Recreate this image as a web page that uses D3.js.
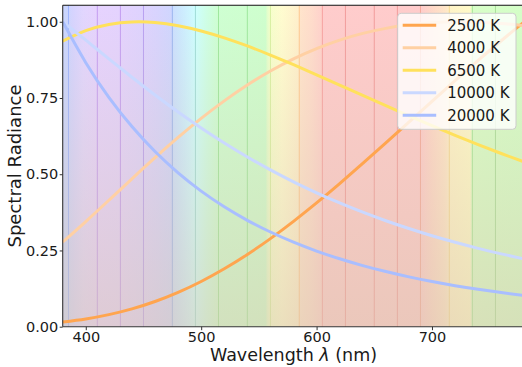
<!DOCTYPE html>
<html><head><meta charset="utf-8">
<script src="https://cdn.jsdelivr.net/npm/d3@7"></script>
<style>
body{margin:0;background:#fff;}
svg{display:block;}
text{font-family:"DejaVu Sans",sans-serif;fill:#1a1a1a;}
</style>
</head><body>
<svg id="chart" width="522" height="367"></svg>
<script>
// ---------- data ----------
const wavelengths = [380,400,420,440,460,480,500,520,540,560,580,600,620,640,660,680,700,720,740,760,780];
const seriesNames = ["2500 K","4000 K","6500 K","10000 K","20000 K"];
const seriesColors = ["#ffa54f","#ffd0a3","#ffe15c","#cad8ff","#a9beff"];
const radiance2500  = [0.0154,0.0255,0.0396,0.0585,0.0827,0.1126,0.1483,0.1898,0.2368,0.2889,0.3455,0.4059,0.4694,0.5353,0.6028,0.6710,0.7393,0.8069,0.8732,0.9378,1.0000];
const radiance4000  = [0.2776,0.3449,0.4147,0.4850,0.5542,0.6206,0.6831,0.7405,0.7925,0.8384,0.8783,0.9120,0.9398,0.9618,0.9784,0.9900,0.9970,0.9998,0.9988,0.9944,0.9872];
const radiance6500  = [0.9367,0.9708,0.9912,0.9995,0.9976,0.9871,0.9699,0.9473,0.9207,0.8909,0.8592,0.8262,0.7924,0.7584,0.7248,0.6916,0.6592,0.6277,0.5973,0.5680,0.5399];
const radiance10000 = [1.0000,0.9397,0.8784,0.8180,0.7596,0.7040,0.6515,0.6023,0.5566,0.5142,0.4751,0.4391,0.4059,0.3755,0.3475,0.3219,0.2983,0.2768,0.2569,0.2387,0.2221];
const radiance20000 = [1.0000,0.8659,0.7524,0.6563,0.5744,0.5045,0.4447,0.3933,0.3489,0.3105,0.2772,0.2481,0.2227,0.2004,0.1808,0.1635,0.1482,0.1346,0.1226,0.1118,0.1022];
const xTicks = [400,500,600,700];
const yTicks = [0,0.25,0.5,0.75,1.0];
const yTickLabels = ["0.00","0.25","0.50","0.75","1.00"];
// background spectrum: wavelength stops and colours
const spectrumWl  = [380,385,386,389,398,410,430,450,462,474,476,482,490,495,505,515,556,557,560,570,584,586,596,604,606,690,700,712,716,733,735,780];
const spectrumCol = ["#cad6ff","#ccd6ff","#d0d5ff","#d6d4ff","#e2d6ff","#e6d3ff","#e4d3ff","#ded3ff","#d8d4ff","#d0d6ff","#cce0ff","#cce9ff","#cef5ff","#ceffff","#ceffe5","#ceffd2","#ceffce","#e0ffcc","#f6ffcc","#fffcd0","#fff0cc","#ffe4cc","#ffdccc","#ffd2cc","#ffcccc","#ffcccc","#ffd8c8","#ffe6c8","#fff4c8","#fffac8","#d8ffc8","#d4ffc8"];
const bandLineWl  = [385,410,430,450,475,495,515,540,560,585,605,625,650,670,690,715,735,755];
const bandLineCol = ["#9db4ff","#c39cf2","#c39cf2","#b9a0f2","#9ab6f0","#9fdcd8","#9de89d","#9de89d","#d6f0a0","#ffc98f","#f7a0a0","#f29c9c","#f29c9c","#f29c9c","#f5a89a","#f5d890","#a8e89a","#a8e09a"];

const seriesValues = [radiance2500,radiance4000,radiance6500,radiance10000,radiance20000];

// ---------- layout ----------
const svg = d3.select("#chart");
const L = 62.7, R = 524.3, T = 5.3, B = 326.7;
const x = d3.scaleLinear().domain([380,780]).range([L,R]);
const y = d3.scaleLinear().domain([0,1.054]).range([B,T]);

const defs = svg.append("defs");
defs.append("clipPath").attr("id","plotclip").append("rect")
  .attr("x",L).attr("y",T).attr("width",R-L).attr("height",B-T);

const spec = defs.append("linearGradient").attr("id","spec")
  .attr("gradientUnits","userSpaceOnUse")
  .attr("x1",x(380)).attr("x2",x(780)).attr("y1",0).attr("y2",0);
spectrumWl.forEach((w,i)=>{
  spec.append("stop").attr("offset",(w-380)/400).attr("stop-color",spectrumCol[i]);
});
const shade = defs.append("linearGradient").attr("id","shade")
  .attr("x1",0).attr("x2",0).attr("y1",0).attr("y2",1);
shade.append("stop").attr("offset",0).attr("stop-color","#d7c3aa").attr("stop-opacity",0);
shade.append("stop").attr("offset",1).attr("stop-color","#d7c3aa").attr("stop-opacity",0.5);

const plot = svg.append("g").attr("clip-path","url(#plotclip)");
plot.append("rect").attr("x",L).attr("y",T).attr("width",R-L).attr("height",B-T).attr("fill","url(#spec)");
plot.selectAll("line.band").data(bandLineWl).enter().append("line")
  .attr("class","band")
  .attr("x1",d=>x(d)).attr("x2",d=>x(d)).attr("y1",T).attr("y2",B)
  .attr("stroke",(d,i)=>bandLineCol[i]).attr("stroke-width",1);
plot.append("rect").attr("x",L).attr("y",T).attr("width",R-L).attr("height",B-T).attr("fill","url(#shade)");

const line = d3.line().x((d,i)=>x(wavelengths[i])).y(d=>y(d)).curve(d3.curveNatural);
plot.selectAll("path.series").data(seriesValues).enter().append("path")
  .attr("class","series")
  .attr("d",d=>line(d))
  .attr("fill","none")
  .attr("stroke",(d,i)=>seriesColors[i])
  .attr("stroke-width",3);

// ---------- axes ----------
const xAxis = svg.append("g").attr("transform",`translate(0,${B})`)
  .call(d3.axisBottom(x).tickValues(xTicks).tickSize(3.5).tickPadding(1.8).tickFormat(d3.format("d")));
const yAxis = svg.append("g").attr("transform",`translate(${L},0)`)
  .call(d3.axisLeft(y).tickValues(yTicks).tickSize(3).tickPadding(1.5).tickFormat((d,i)=>yTickLabels[i]));
[xAxis,yAxis].forEach(g=>{
  g.select(".domain").remove();
  g.selectAll(".tick line").attr("stroke","#333").attr("stroke-width",1);
  g.selectAll(".tick text").attr("font-size","14.5px").attr("fill","#1a1a1a")
    .attr("font-family","DejaVu Sans, sans-serif");
});
// spines
svg.append("line").attr("x1",L).attr("x2",L).attr("y1",T).attr("y2",B).attr("stroke","#333").attr("stroke-width",1.1);
svg.append("line").attr("x1",L).attr("x2",R).attr("y1",B).attr("y2",B).attr("stroke","#333").attr("stroke-width",1.1);
svg.append("line").attr("x1",L).attr("x2",R).attr("y1",T).attr("y2",T).attr("stroke","#111").attr("stroke-width",1.1);

// axis labels
const xl = svg.append("text").attr("x",(L+R)/2).attr("y",361).attr("text-anchor","middle").attr("font-size","17.5px");
xl.append("tspan").text("Wavelength ");
xl.append("tspan").attr("font-style","italic").text("λ");
xl.append("tspan").text(" (nm)");
svg.append("text").attr("transform",`translate(21.3,${(T+B)/2}) rotate(-90)`)
  .attr("text-anchor","middle").attr("font-size","18px").text("Spectral Radiance");

// ---------- legend ----------
const lg = svg.append("g").attr("transform","translate(397.7,13.3)");
lg.append("rect").attr("width",118.3).attr("height",116).attr("rx",3.5)
  .attr("fill","#fff").attr("fill-opacity",0.8).attr("stroke","#cccccc").attr("stroke-width",1);
seriesNames.forEach((n,i)=>{
  const yy = 12 + i*22.5;
  lg.append("line").attr("x1",5).attr("x2",38.5).attr("y1",yy).attr("y2",yy)
    .attr("stroke",seriesColors[i]).attr("stroke-width",3);
  lg.append("text").attr("x",49.5).attr("y",yy+5.3).attr("font-size","15px").text(n);
});
</script>
</body></html>
